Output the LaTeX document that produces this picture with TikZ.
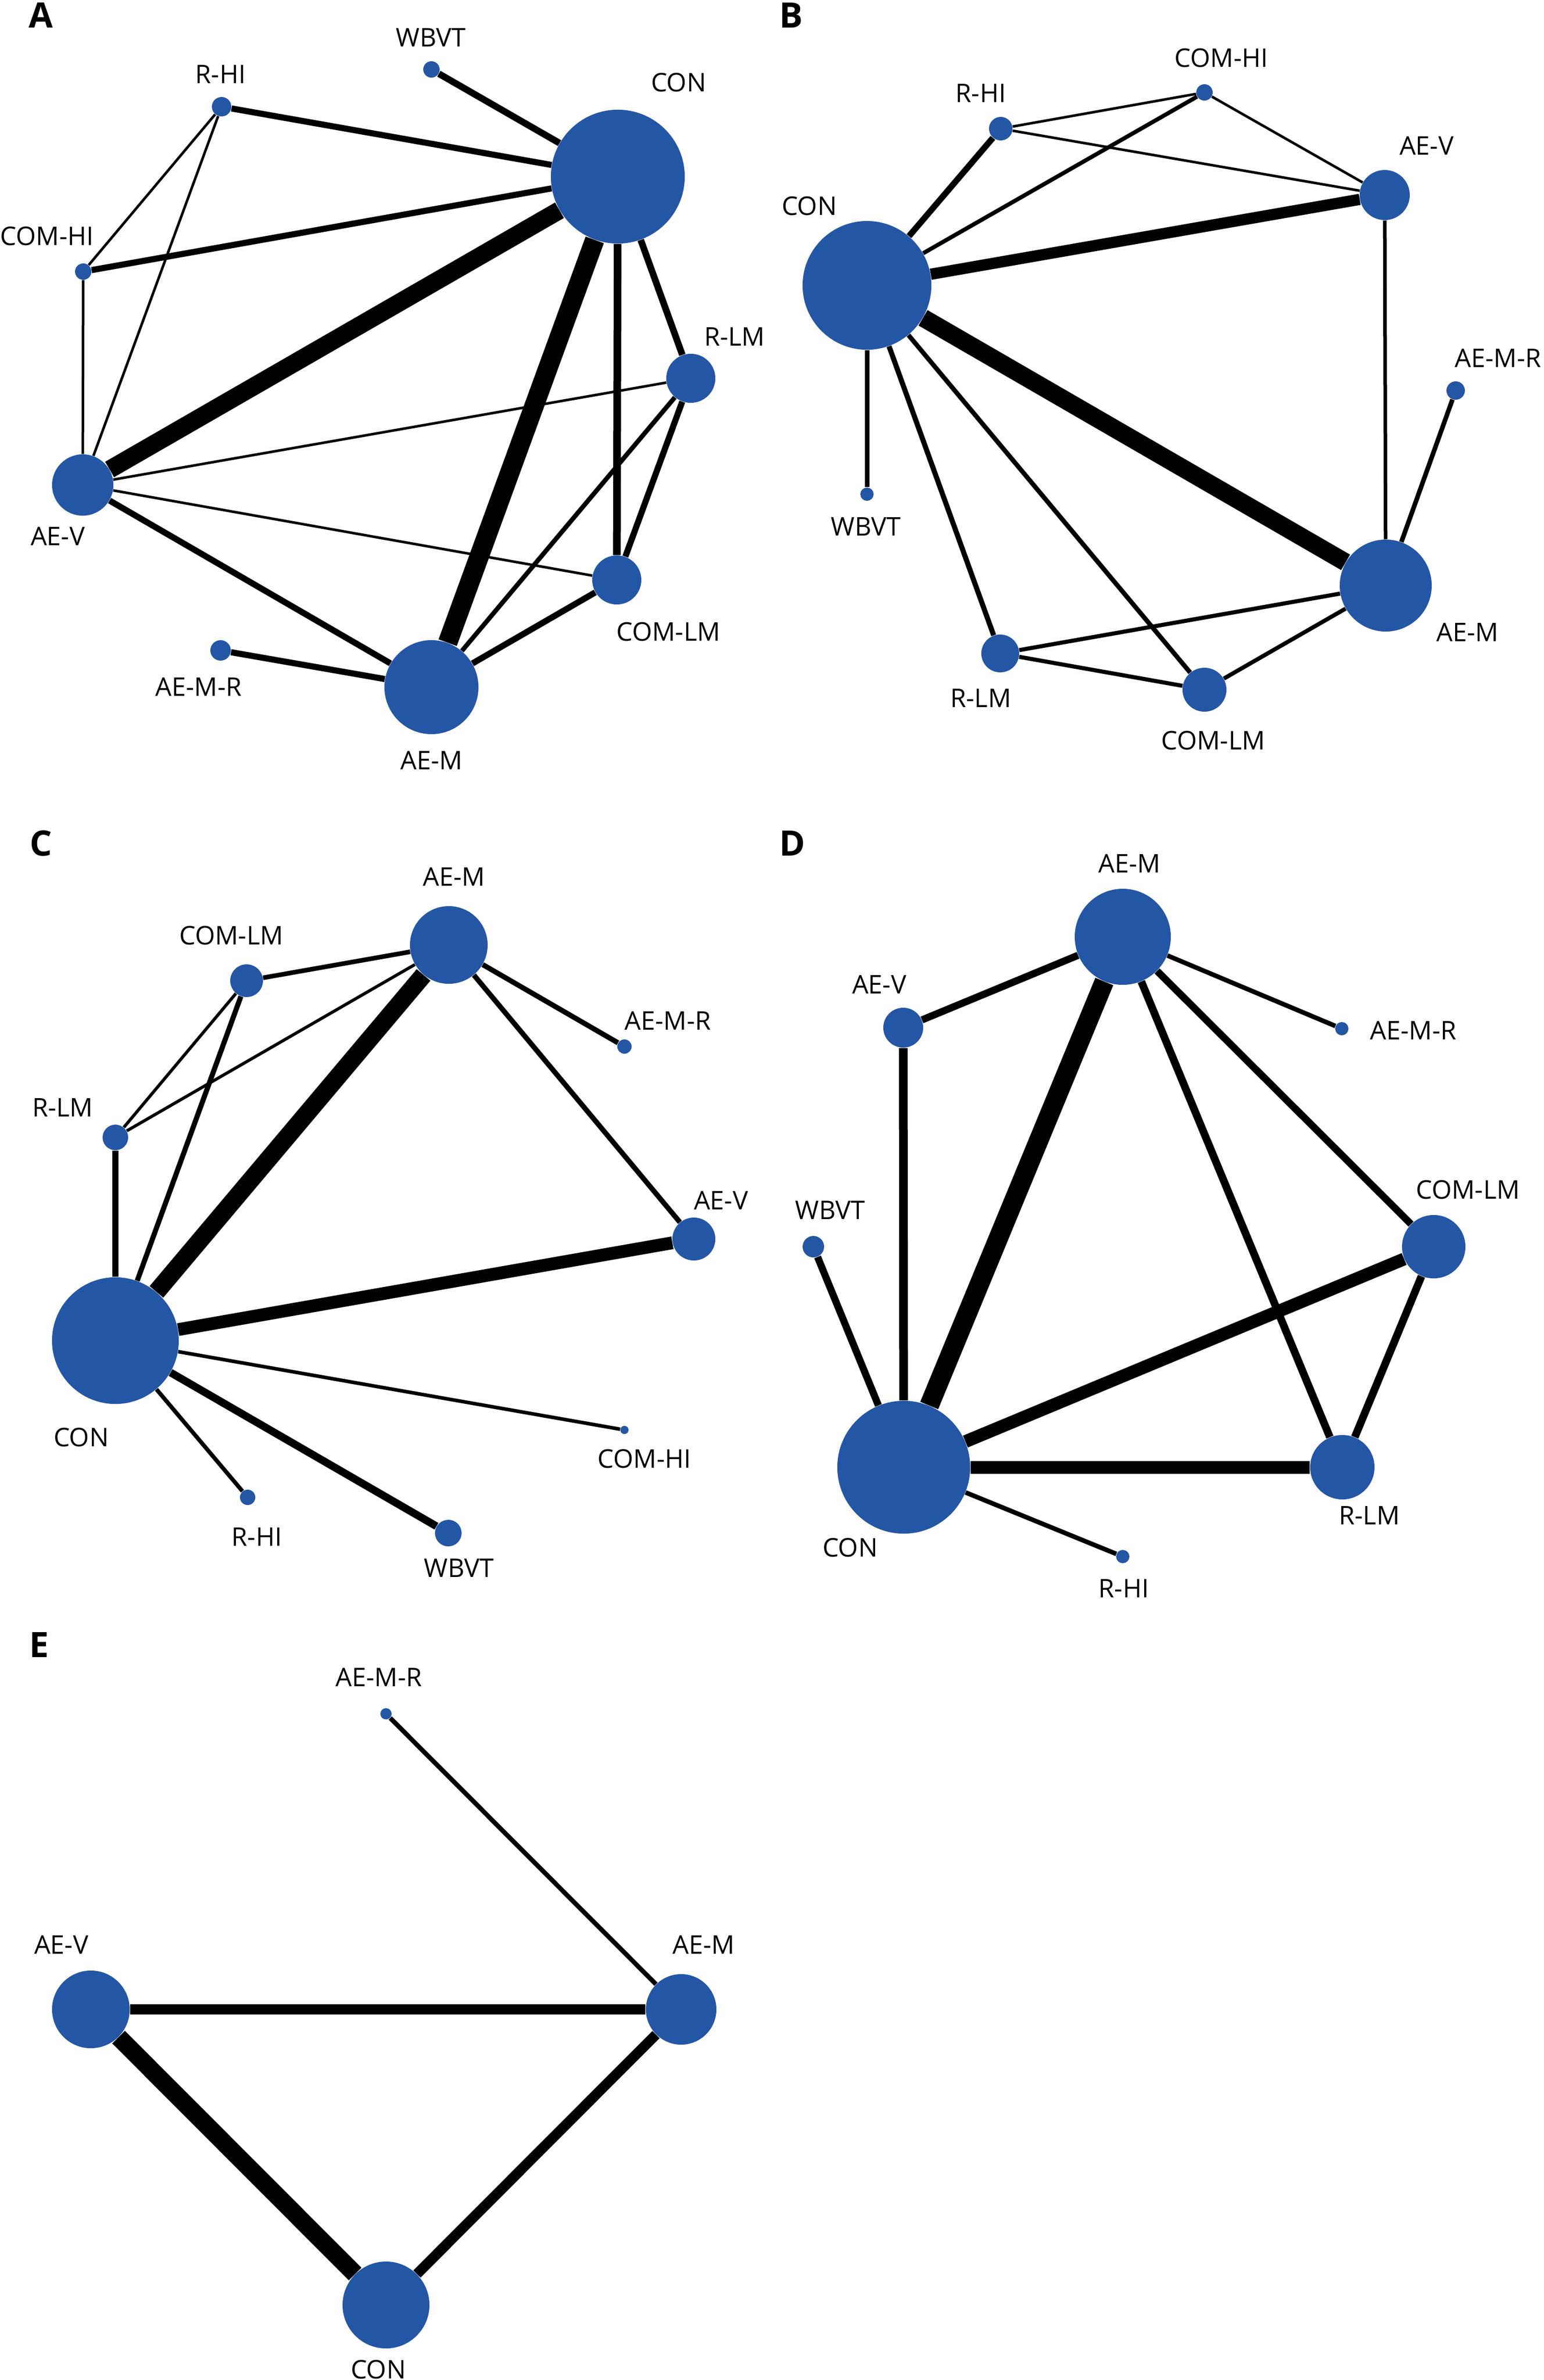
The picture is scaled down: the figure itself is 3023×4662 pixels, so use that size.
\documentclass[tikz,border=0pt]{standalone}
\usepackage{fontspec}
\setmainfont{Open Sans}
\definecolor{netblue}{RGB}{36,86,166}
\tikzset{
  nd/.style={circle,fill=netblue,inner sep=0pt,minimum size=#1*0.02cm},
  lw/.style={line width=#1*0.01cm},
  lab/.style={font=\fontsize{14.3}{17}\selectfont,inner sep=0pt},
  pan/.style={font=\fontsize{19.5}{22}\selectfont\bfseries,inner sep=0pt}
}
\begin{document}
\begin{tikzpicture}[x=0.01cm,y=-0.01cm]
\useasboundingbox (0,0) rectangle (3023,4662);

%Rete A

\begin{scope}
\node[pan] (aP) at (80,30) {A};

\node[nd=131] (aCON) at (1210,346) {};
\node[nd=16] (aWBVT) at (845,136) {};
\node[nd=19] (aRHI) at (434,209) {};
\node[nd=16] (aCOMHI) at (163,532) {};
\node[nd=48] (aRLM) at (1353,741) {};
\node[nd=60] (aAEV) at (162,950) {};
\node[nd=48] (aCOMLM) at (1208,1136) {};
\node[nd=20] (aAEMR) at (432,1274) {};
\node[nd=92] (aAEM) at (845,1346) {};

\node[lab] (aCONt) at (1329,161) {CON};
\node[lab] (aWBVTt) at (844,74) {WBVT};
\node[lab] (aRHIt) at (432,146) {R-HI};
\node[lab] (aCOMHIt) at (92,462) {COM-HI};
\node[lab] (aRLMt) at (1439,660) {R-LM};
\node[lab] (aAEVt) at (113,1050) {AE-V};
\node[lab] (aCOMLMt) at (1309,1237) {COM-LM};
\node[lab] (aAEMRt) at (389,1345) {AE-M-R};
\node[lab] (aAEMt) at (845,1489) {AE-M};

\draw[lw=13] (aWBVT) -- (aCON);
\draw[lw=12] (aRHI) -- (aCON);
\draw[lw=12] (aCOMHI) -- (aCON);
\draw[lw=35] (aAEV) -- (aCON);
\draw[lw=38] (aAEM) -- (aCON);
\draw[lw=15] (aCOMLM) -- (aCON);
\draw[lw=13] (aRLM) -- (aCON);
\draw[lw=5] (aRHI) -- (aCOMHI);
\draw[lw=5] (aRHI) -- (aAEV);
\draw[lw=5] (aCOMHI) -- (aAEV);
\draw[lw=5] (aAEV) -- (aRLM);
\draw[lw=5] (aAEV) -- (aCOMLM);
\draw[lw=12] (aAEV) -- (aAEM);
\draw[lw=12] (aAEMR) -- (aAEM);
\draw[lw=12] (aAEM) -- (aCOMLM);
\draw[lw=9] (aAEM) -- (aRLM);
\draw[lw=12] (aRLM) -- (aCOMLM);
\end{scope}

%Rete B

\begin{scope}
\node[pan] (bP) at (1550,30) {B};

\node[nd=126] (bCON) at (1698,559) {};
\node[nd=16] (bCOMHI) at (2359,181) {};
\node[nd=23] (bRHI) at (1960,252) {};
\node[nd=49] (bAEV) at (2712,382) {};
\node[nd=18] (bAEMR) at (2851,765) {};
\node[nd=13] (bWBVT) at (1698,968) {};
\node[nd=90] (bAEM) at (2714,1147) {};
\node[nd=37] (bRLM) at (1959,1280) {};
\node[nd=43] (bCOMLM) at (2359,1351) {};

\node[lab] (bCOMHIt) at (2392,114) {COM-HI};
\node[lab] (bRHIt) at (1921,183) {R-HI};
\node[lab] (bAEVt) at (2794,285) {AE-V};
\node[lab] (bCONt) at (1585,403) {CON};
\node[lab] (bAEMRt) at (2934,701) {AE-M-R};
\node[lab] (bWBVTt) at (1696,1032) {WBVT};
\node[lab] (bAEMt) at (2874,1238) {AE-M};
\node[lab] (bRLMt) at (1921,1368) {R-LM};
\node[lab] (bCOMLMt) at (2376,1450) {COM-LM};

\draw[lw=12] (bCON) -- (bRHI);
\draw[lw=8] (bCON) -- (bCOMHI);
\draw[lw=22] (bCON) -- (bAEV);
\draw[lw=35] (bCON) -- (bAEM);
\draw[lw=9] (bCON) -- (bWBVT);
\draw[lw=10] (bCON) -- (bRLM);
\draw[lw=9] (bCON) -- (bCOMLM);
\draw[lw=5] (bRHI) -- (bCOMHI);
\draw[lw=5] (bRHI) -- (bAEV);
\draw[lw=5] (bCOMHI) -- (bAEV);
\draw[lw=7] (bAEV) -- (bAEM);
\draw[lw=9] (bAEMR) -- (bAEM);
\draw[lw=8] (bAEM) -- (bRLM);
\draw[lw=8] (bAEM) -- (bCOMLM);
\draw[lw=8] (bRLM) -- (bCOMLM);
\end{scope}

%Rete C

\begin{scope}
\node[pan] (cP) at (80,1652) {C};

\node[nd=124] (cCON) at (226,2626) {};
\node[nd=76] (cAEM) at (879,1851) {};
\node[nd=32] (cCOMLM) at (483,1921) {};
\node[nd=25] (cRLM) at (226,2228) {};
\node[nd=14] (cAEMR) at (1223,2050) {};
\node[nd=42] (cAEV) at (1359,2427) {};
\node[nd=8] (cCOMHI) at (1223,2801) {};
\node[nd=15] (cRHI) at (485,2933) {};
\node[nd=26] (cWBVT) at (878,3003) {};

\node[lab] (cAEMt) at (889,1717) {AE-M};
\node[lab] (cCOMLMt) at (453,1832) {COM-LM};
\node[lab] (cAEMRt) at (1308,1999) {AE-M-R};
\node[lab] (cRLMt) at (123,2170) {R-LM};
\node[lab] (cAEVt) at (1412,2351) {AE-V};
\node[lab] (cCONt) at (159,2815) {CON};
\node[lab] (cCOMHIt) at (1262,2857) {COM-HI};
\node[lab] (cRHIt) at (503,3011) {R-HI};
\node[lab] (cWBVTt) at (899,3072) {WBVT};

\draw[lw=12] (cCON) -- (cRLM);
\draw[lw=10] (cCON) -- (cCOMLM);
\draw[lw=35] (cCON) -- (cAEM);
\draw[lw=25] (cCON) -- (cAEV);
\draw[lw=7] (cCON) -- (cCOMHI);
\draw[lw=8] (cCON) -- (cRHI);
\draw[lw=15] (cCON) -- (cWBVT);
\draw[lw=6] (cRLM) -- (cCOMLM);
\draw[lw=6] (cRLM) -- (cAEM);
\draw[lw=9] (cCOMLM) -- (cAEM);
\draw[lw=10] (cAEM) -- (cAEMR);
\draw[lw=10] (cAEM) -- (cAEV);
\end{scope}

%Rete D

\begin{scope}
\node[pan] (dP) at (1552,1652) {D};

\node[nd=94] (dAEM) at (2199,1835) {};
\node[nd=39] (dAEV) at (1769,2013) {};
\node[nd=13] (dAEMR) at (2628,2015) {};
\node[nd=21] (dWBVT) at (1593,2442) {};
\node[nd=62] (dCOMLM) at (2808,2442) {};
\node[nd=130] (dCON) at (1770,2874) {};
\node[nd=63] (dRLM) at (2629,2874) {};
\node[nd=13] (dRHI) at (2199,3049) {};

\node[lab] (dAEMt) at (2212,1691) {AE-M};
\node[lab] (dAEVt) at (1722,1928) {AE-V};
\node[lab] (dAEMRt) at (2768,2018) {AE-M-R};
\node[lab] (dCOMLMt) at (2875,2330) {COM-LM};
\node[lab] (dWBVTt) at (1626,2371) {WBVT};
\node[lab] (dRLMt) at (2682,2969) {R-LM};
\node[lab] (dCONt) at (1665,3031) {CON};
\node[lab] (dRHIt) at (2201,3112) {R-HI};

\draw[lw=14] (dAEV) -- (dAEM);
\draw[lw=17] (dAEV) -- (dCON);
\draw[lw=38] (dAEM) -- (dCON);
\draw[lw=15] (dAEM) -- (dRLM);
\draw[lw=14] (dAEM) -- (dCOMLM);
\draw[lw=9] (dAEM) -- (dAEMR);
\draw[lw=14] (dWBVT) -- (dCON);
\draw[lw=25] (dCOMLM) -- (dCON);
\draw[lw=15] (dCOMLM) -- (dRLM);
\draw[lw=25] (dCON) -- (dRLM);
\draw[lw=9] (dCON) -- (dRHI);
\end{scope}

%Rete E

\begin{scope}
\node[pan] (eP) at (77,3222) {E};

\node[nd=11] (eAEMR) at (756,3357) {};
\node[nd=76] (eAEV) at (178,3936) {};
\node[nd=69] (eAEM) at (1334,3936) {};
\node[nd=85] (eCON) at (756,4515) {};

\node[lab] (eAEMRt) at (742,3285) {AE-M-R};
\node[lab] (eAEVt) at (120,3809) {AE-V};
\node[lab] (eAEMt) at (1378,3809) {AE-M};
\node[lab] (eCONt) at (741,4641) {CON};

\draw[lw=9] (eAEMR) -- (eAEM);
\draw[lw=20] (eAEV) -- (eAEM);
\draw[lw=35] (eAEV) -- (eCON);
\draw[lw=20] (eAEM) -- (eCON);
\end{scope}

\end{tikzpicture}
\end{document}
